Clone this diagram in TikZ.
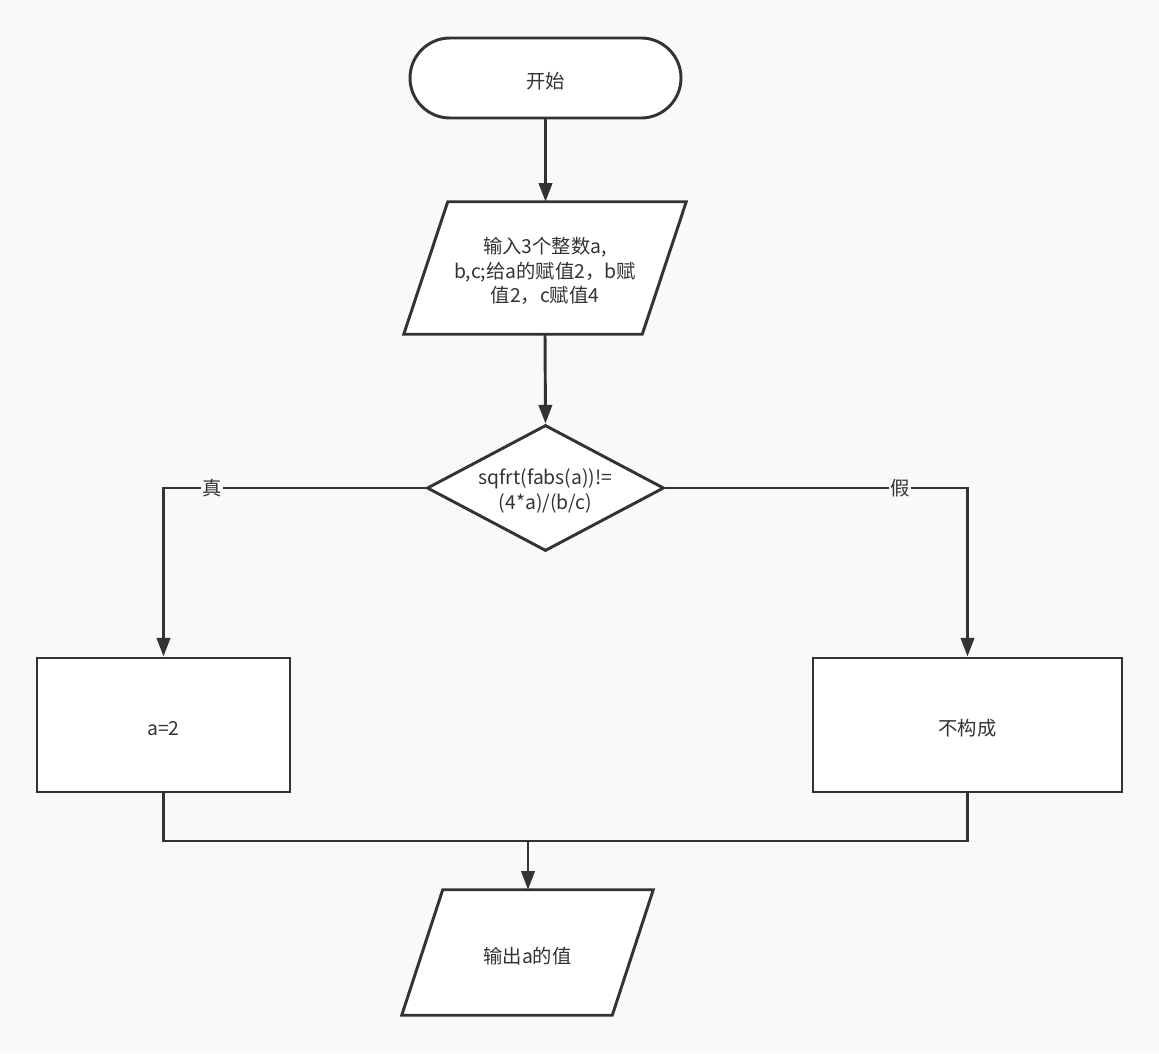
\documentclass[tikz,border=0pt]{standalone}
\usepackage{fontspec}
\setmainfont{Noto Sans CJK SC}
\usetikzlibrary{shapes.geometric,shapes.misc,arrows.meta,backgrounds}
\definecolor{bg}{HTML}{F9F9F9}
\definecolor{ink}{HTML}{333333}
\begin{document}
\begin{tikzpicture}[x=0.75pt,y=-0.75pt,
  txt/.style={font=\fontsize{14.5pt}{18.5pt}\selectfont, text=ink},
  txtc/.style={txt, align=center, inner sep=0pt, yshift=-2.4pt},
  T/.style={label={[txtc]center:#1}},
  base/.style={draw=ink, line width=2.2pt, fill=white, inner sep=0pt},
  term/.style={base, rounded rectangle, minimum width=271*0.75pt, minimum height=80*0.75pt},
  io/.style={inner sep=0pt, rectangle},
  proc/.style={base, rectangle, minimum height=134*0.75pt},
  decision/.style={base, diamond, aspect=1.88, minimum width=237*0.75pt, minimum height=126*0.75pt},
  shapeline/.style={draw=ink, fill=white, line width=2.2pt, line join=miter},
  line/.style={draw=ink, line width=2.2pt},
  arr/.style={line, -{Triangle[width=10pt,length=14pt]}},
  lbl/.style={txt, fill=bg, inner sep=1pt}]
\begin{scope}[on background layer]
\fill[bg] (0,0) rectangle (1159,1053);
\end{scope}
\useasboundingbox (0,0) rectangle (1159,1053);

\node[term, T={开始}] (start) at (545.5,78) {};
\node[io, minimum width=282*0.75pt, minimum height=132*0.75pt,
  T={输入3个整数a,\\b,c;给a的赋值2，b赋\\值2，c赋值4}] (in) at (545,268) {};
\node[decision, T={sqfrt(fabs(a))!=\\(4*a)/(b/c)}] (dec) at (545.5,488) {};
\node[proc, minimum width=253*0.75pt, T={a=2}] (A) at (163.5,725) {};
\node[proc, minimum width=309*0.75pt, T={不构成}] (B) at (967.5,725) {};
\node[io, minimum width=251*0.75pt, minimum height=125*0.75pt, T={输出a的值}] (out) at (527.5,952.5) {};
\coordinate (j) at (528,841);

\begin{scope}[on background layer]
\path[shapeline] ([xshift=33pt]in.north west) -- (in.north east)
  -- ([xshift=-33pt]in.south east) -- (in.south west) -- cycle;
\path[shapeline] ([xshift=30.75pt]out.north west) -- (out.north east)
  -- ([xshift=-30.75pt]out.south east) -- (out.south west) -- cycle;
\end{scope}

\draw[arr] (start.south) -- (start.south |- in.north);
\draw[arr] (in.south) -- (dec.north);
\draw[arr] (dec.west) -| (A.north) node[lbl, pos=0.407] {真};
\draw[arr] (dec.east) -| (B.north) node[lbl, pos=0.388] {假};
\draw[line] (A.south) -- (A.south |- j) -- (B.south |- j) -- (B.south);
\draw[arr] (j) -- (j |- out.north);
\end{tikzpicture}
\end{document}
